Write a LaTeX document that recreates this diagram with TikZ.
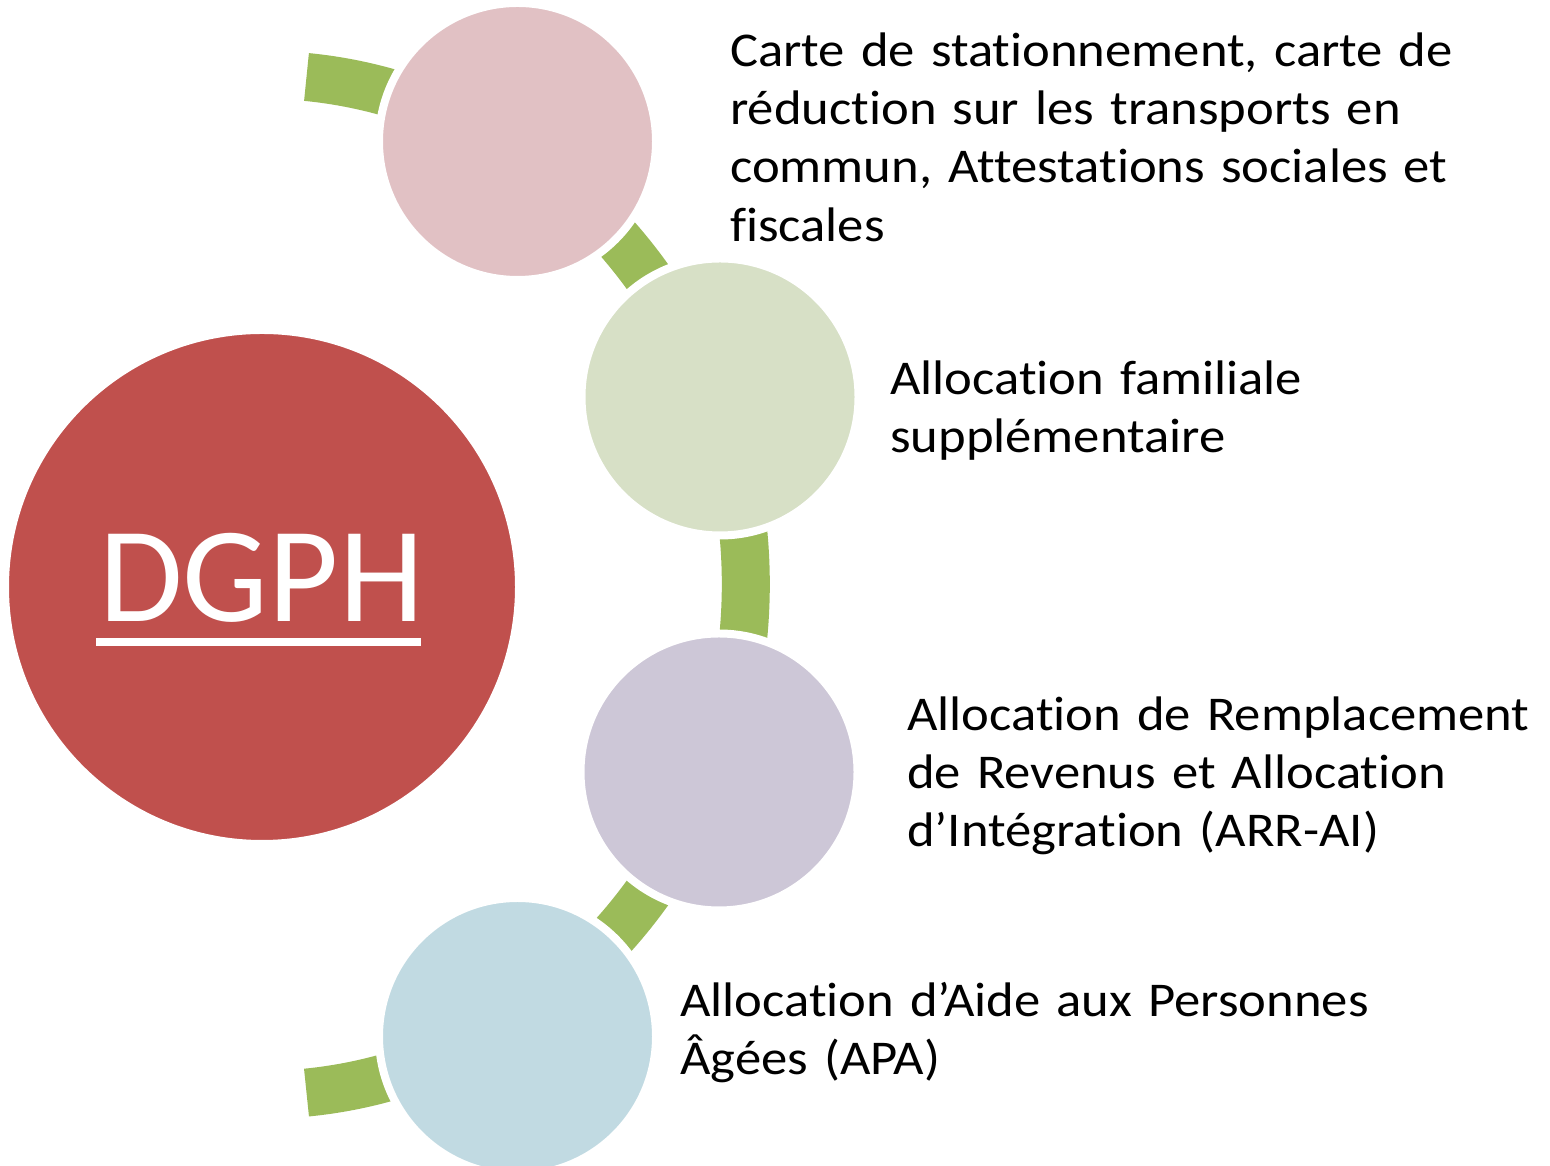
\documentclass[tikz,border=0pt]{standalone}
\usepackage{fontspec}
\setmainfont{Carlito}[Ligatures=NoCommon]
\newfontfamily\bodyfont{Carlito}[Ligatures=NoCommon, FakeStretch=1.085]
\definecolor{arcgreen}{HTML}{9BBB59}
\definecolor{dred}{HTML}{C0504D}
\definecolor{cpink}{HTML}{E1C1C4}
\definecolor{cgreen}{HTML}{D7E0C6}
\definecolor{cpurple}{HTML}{CDC7D7}
\definecolor{cblue}{HTML}{C1DAE2}
\tikzset{
  bubble/.style={circle, draw=white, line width=8pt, inner sep=0pt, minimum size=277pt},
  label/.style={anchor=north west, inner sep=0pt, text width=900pt, align=left,
    font=\bodyfont\fontsize{48.5}{58.3}\selectfont, text=black},
}
\begin{document}
\begin{tikzpicture}[x=1pt,y=1pt]
\useasboundingbox (0,0) rectangle (1550,1166);
% green band (drawn behind the circles)
\coordinate (bandstart) at (306.5,1089);
\draw[arcgreen, line width=48pt, line cap=butt]
  (bandstart) arc[start angle=84.7, end angle=-84.7, x radius=484pt, y radius=510pt];
% central circle
\node[circle, fill=dred, draw=white, line width=8pt, inner sep=0pt, minimum size=514pt] (dgphc) at (262,579) {};
\node[anchor=base, inner sep=0pt, text=white, font=\fontsize{136}{160}\selectfont] (dgph) at (261.5,544) {DGPH};
\fill[white] (96,528) rectangle (421,520);
% small circles
\node[bubble, fill=cpink]   (c1) at (517.5,1024.5) {};
\node[bubble, fill=cgreen]  (c2) at (720,769) {};
\node[bubble, fill=cpurple] (c3) at (719,394) {};
\node[bubble, fill=cblue]   (c4) at (517.5,129.5) {};
% labels
\node[label] (t1) at (730,1140.8) {\strut Carte de stationnement, carte de\\réduction sur les transports en\\commun, Attestations sociales et\\fiscales};
\node[label] (t2) at (890,812.8) {\strut Allocation familiale\\supplémentaire};
\node[label] (t3) at (907,476.8) {\strut Allocation de Remplacement\\de Revenus et Allocation\\d’Intégration (ARR-AI)};
\node[label] (t4) at (680,190.8) {\strut Allocation d’Aide aux Personnes\\Âgées (APA)};
\end{tikzpicture}
\end{document}
